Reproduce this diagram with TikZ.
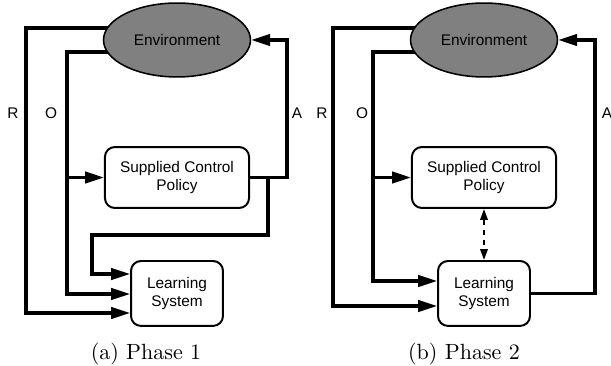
\documentclass[tikz,border=0pt]{standalone}
\usepackage{fontspec}
\usepackage{tikz}
\usetikzlibrary{shapes,arrows.meta}
\usetikzlibrary{positioning,backgrounds}
\newfontfamily\diagfont{Liberation Sans}
\tikzstyle{env} = [ellipse, draw, line width=0.7pt, fill=black!50,
    minimum width=66.8pt, minimum height=33.6pt, inner sep=0pt,
    font=\diagfont\fontsize{7}{7.8}\selectfont]
\tikzstyle{block} = [rectangle, draw, line width=0.9pt, fill=white,
    rounded corners=4.5pt, align=center, inner sep=0pt,
    font=\diagfont\fontsize{7}{7.8}\selectfont]
\tikzstyle{flow} = [line width=1.4pt, -{Triangle[length=8.6pt,width=5.2pt]}]
\tikzstyle{lbl} = [font=\diagfont\fontsize{7}{7.8}\selectfont]

\begin{document}
\begin{tikzpicture}[x=0.4545pt, y=-0.4545pt]
  \useasboundingbox (0,0) rectangle (611,366);
  % Place nodes
  \node [env] (envA) at (177,40) {Environment};
  \node [block, below of=envA, node distance=62.5pt,
    minimum width=65.5pt, minimum height=27.7pt] (scpA)
  {Supplied Control\\Policy};
  \node [block, below of=scpA, node distance=52.7pt,
    minimum width=41.8pt, minimum height=29.5pt] (lsA)
  {Learning\\System};
  \node [env] (envB) at (484,40) {Environment};
  \node [block, below of=envB, node distance=62.5pt,
    minimum width=65.5pt, minimum height=27.7pt] (scpB)
  {Supplied Control\\Policy};
  \node [block, below of=scpB, node distance=52.7pt,
    minimum width=41.8pt, minimum height=29.5pt] (lsB)
  {Learning\\System};
  \node [lbl] (rA) at (13,113) {R};
  \node [lbl] (oA) at (51,113) {O};
  \node [lbl] (aA) at (297,113) {A};
  \node [lbl] (rB) at (322,113) {R};
  \node [lbl] (oB) at (362,113) {O};
  \node [lbl] (aB) at (607,113) {A};
  \node (capA) at (146,354) {(a) Phase 1};
  \node (capB) at (464,354) {(b) Phase 2};
  % Bus corners
  \coordinate (rbusA) at (26,313);
  \coordinate (obusA) at (67,294);
  \coordinate (abusA) at (287,40);
  \coordinate (pbusA) at (268,235);
  \coordinate (qbusA) at (92,274);
  \coordinate (rbusB) at (333,306);
  \coordinate (obusB) at (373,281);
  \coordinate (abusB) at (595,40);
  % Draw edges
  \begin{pgfonlayer}{background}
  \draw [flow] (envA.center |- 0,28) -| (rbusA) -- (lsA.west |- rbusA);
  \draw [flow] (envA.center |- 0,52) -| (obusA) -- (lsA.west |- obusA);
  \draw [flow] (obusA |- scpA.west) -- (scpA.west);
  \draw [flow] (scpA.east) -| (abusA) -- (envA.east);
  \draw [flow] (scpA.east) -| (pbusA) -| (qbusA) -- (lsA.west |- qbusA);
  \draw [flow] (envB.center |- 0,28) -| (rbusB) -- (lsB.west |- rbusB);
  \draw [flow] (envB.center |- 0,52) -| (obusB) -- (lsB.west |- obusB);
  \draw [flow] (obusB |- scpB.west) -- (scpB.west);
  \draw [flow] (lsB.east) -| (abusB) -- (envB.east);
  \end{pgfonlayer}
  \draw [line width=0.9pt, dash pattern=on 2.6pt off 2pt,
    {Triangle[length=5pt,width=3.4pt]}-{Triangle[length=5pt,width=3.4pt]}]
    (scpB) -- (lsB);
\end{tikzpicture}
\end{document}
